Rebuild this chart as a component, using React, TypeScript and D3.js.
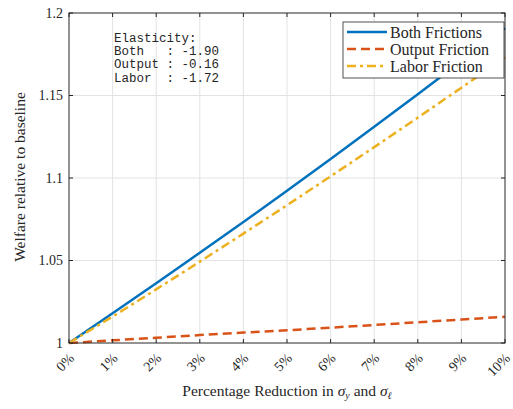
import { useEffect, useRef } from "react";
import * as d3 from "d3";

const reductions = [0, 1, 2, 3, 4, 5, 6, 7, 8, 9, 10];
const bothFrictions = [1, 1.018, 1.0362, 1.0547, 1.0733, 1.0923, 1.1115, 1.131, 1.1507, 1.1707, 1.1907];
const outputFriction = [1, 1.0016, 1.0032, 1.0048, 1.0063, 1.0077, 1.0093, 1.0109, 1.0126, 1.0142, 1.0159];
const laborFriction = [1, 1.016, 1.0325, 1.0493, 1.0663, 1.0835, 1.101, 1.1187, 1.1366, 1.1547, 1.1731];
const yTicks = [1, 1.05, 1.1, 1.15, 1.2];
const yTickLabels = ["1", "1.05", "1.1", "1.15", "1.2"];
const annotation = ["Elasticity:", "Both   : -1.90", "Output : -0.16", "Labor  : -1.72"];

const series = [
  { name: "Both Frictions", values: bothFrictions, color: "#0072BD", dash: "none" },
  { name: "Output Friction", values: outputFriction, color: "#D95319", dash: "9,5" },
  { name: "Labor Friction", values: laborFriction, color: "#EDB120", dash: "9,4,3,4" },
];

const W = 513;
const H = 409;
const serif = "'Liberation Serif', 'DejaVu Serif', serif";

export default function App() {
  const ref = useRef<SVGSVGElement>(null);

  useEffect(() => {
    const svg = d3.select(ref.current);
    svg.selectAll("*").remove();

    const left = 69, right = 505, top = 13, bottom = 343;
    const x = d3.scaleLinear().domain([0, 10]).range([left, right]);
    const y = d3.scaleLinear().domain([1, 1.2]).range([bottom, top]);

    svg.append("rect").attr("width", W).attr("height", H).attr("fill", "#fff");

    // grid
    const grid = svg.append("g").attr("stroke", "#e3e3e3").attr("stroke-width", 1);
    reductions.slice(1, -1).forEach((d) => {
      grid.append("line").attr("x1", x(d)).attr("x2", x(d)).attr("y1", top).attr("y2", bottom);
    });
    yTicks.slice(1, -1).forEach((d) => {
      grid.append("line").attr("x1", left).attr("x2", right).attr("y1", y(d)).attr("y2", y(d));
    });

    // lines
    const line = d3
      .line<number>()
      .x((_, i) => x(reductions[i]))
      .y((d) => y(d));
    series.forEach((s) => {
      svg.append("path")
        .datum(s.values)
        .attr("d", line)
        .attr("fill", "none")
        .attr("stroke", s.color)
        .attr("stroke-width", 2.5)
        .attr("stroke-dasharray", s.dash);
    });

    // box + ticks
    const ax = svg.append("g").attr("stroke", "#262626").attr("stroke-width", 1);
    ax.append("rect")
      .attr("x", left).attr("y", top)
      .attr("width", right - left).attr("height", bottom - top)
      .attr("fill", "none");
    reductions.forEach((d) => {
      ax.append("line").attr("x1", x(d)).attr("x2", x(d)).attr("y1", bottom).attr("y2", bottom - 4);
      ax.append("line").attr("x1", x(d)).attr("x2", x(d)).attr("y1", top).attr("y2", top + 4);
    });
    yTicks.forEach((d) => {
      ax.append("line").attr("x1", left).attr("x2", left + 4).attr("y1", y(d)).attr("y2", y(d));
      ax.append("line").attr("x1", right).attr("x2", right - 4).attr("y1", y(d)).attr("y2", y(d));
    });

    // tick labels
    yTicks.forEach((d, i) => {
      svg.append("text")
        .attr("x", left - 6).attr("y", y(d)).attr("dy", "0.35em")
        .attr("text-anchor", "end")
        .attr("font-family", serif).attr("font-size", 14).attr("fill", "#262626")
        .text(yTickLabels[i]);
    });
    reductions.forEach((d) => {
      svg.append("text")
        .attr("transform", `translate(${x(d) - 1},${bottom + 9}) rotate(-45)`)
        .attr("text-anchor", "end")
        .attr("dy", "0.7em")
        .attr("font-family", serif).attr("font-size", 14).attr("fill", "#262626")
        .text(`${d}%`);
    });

    // axis titles
    const xt = svg.append("text")
      .attr("x", 287).attr("y", 396)
      .attr("text-anchor", "middle")
      .attr("font-family", serif).attr("font-size", 15.5).attr("fill", "#262626");
    xt.append("tspan").text("Percentage Reduction in ");
    xt.append("tspan").attr("font-style", "italic").text("σ");
    xt.append("tspan").attr("font-style", "italic").attr("font-size", 10).attr("dy", 3).text("y");
    xt.append("tspan").attr("dy", -3).text(" and ");
    xt.append("tspan").attr("font-style", "italic").text("σ");
    xt.append("tspan").attr("font-style", "italic").attr("font-size", 10).attr("dy", 3).text("ℓ");

    svg.append("text")
      .attr("transform", `translate(25,177) rotate(-90)`)
      .attr("text-anchor", "middle")
      .attr("font-family", serif).attr("font-size", 15.5).attr("fill", "#262626")
      .text("Welfare relative to baseline");

    // annotation
    annotation.forEach((t, i) => {
      svg.append("text")
        .attr("x", 114).attr("y", 42 + i * 13.2)
        .attr("font-family", "'Liberation Mono', 'DejaVu Sans Mono', monospace")
        .attr("font-size", 12.5).attr("fill", "#262626")
        .attr("xml:space", "preserve")
        .style("white-space", "pre")
        .text(t);
    });

    // legend
    const lg = svg.append("g");
    lg.append("rect")
      .attr("x", 343).attr("y", 22).attr("width", 161).attr("height", 56)
      .attr("fill", "#fff").attr("stroke", "#262626").attr("stroke-width", 0.8);
    series.forEach((s, i) => {
      const cy = 32 + i * 17;
      lg.append("line")
        .attr("x1", 347).attr("x2", 387).attr("y1", cy).attr("y2", cy)
        .attr("stroke", s.color).attr("stroke-width", 2.5)
        .attr("stroke-dasharray", s.dash);
      lg.append("text")
        .attr("x", 390).attr("y", cy).attr("dy", "0.35em")
        .attr("font-family", serif).attr("font-size", 16).attr("fill", "#262626")
        .text(s.name);
    });
  }, []);

  return (
    <svg ref={ref} width={W} height={H} style={{ display: "block", position: "absolute", left: 0, top: 0 }} />
  );
}
